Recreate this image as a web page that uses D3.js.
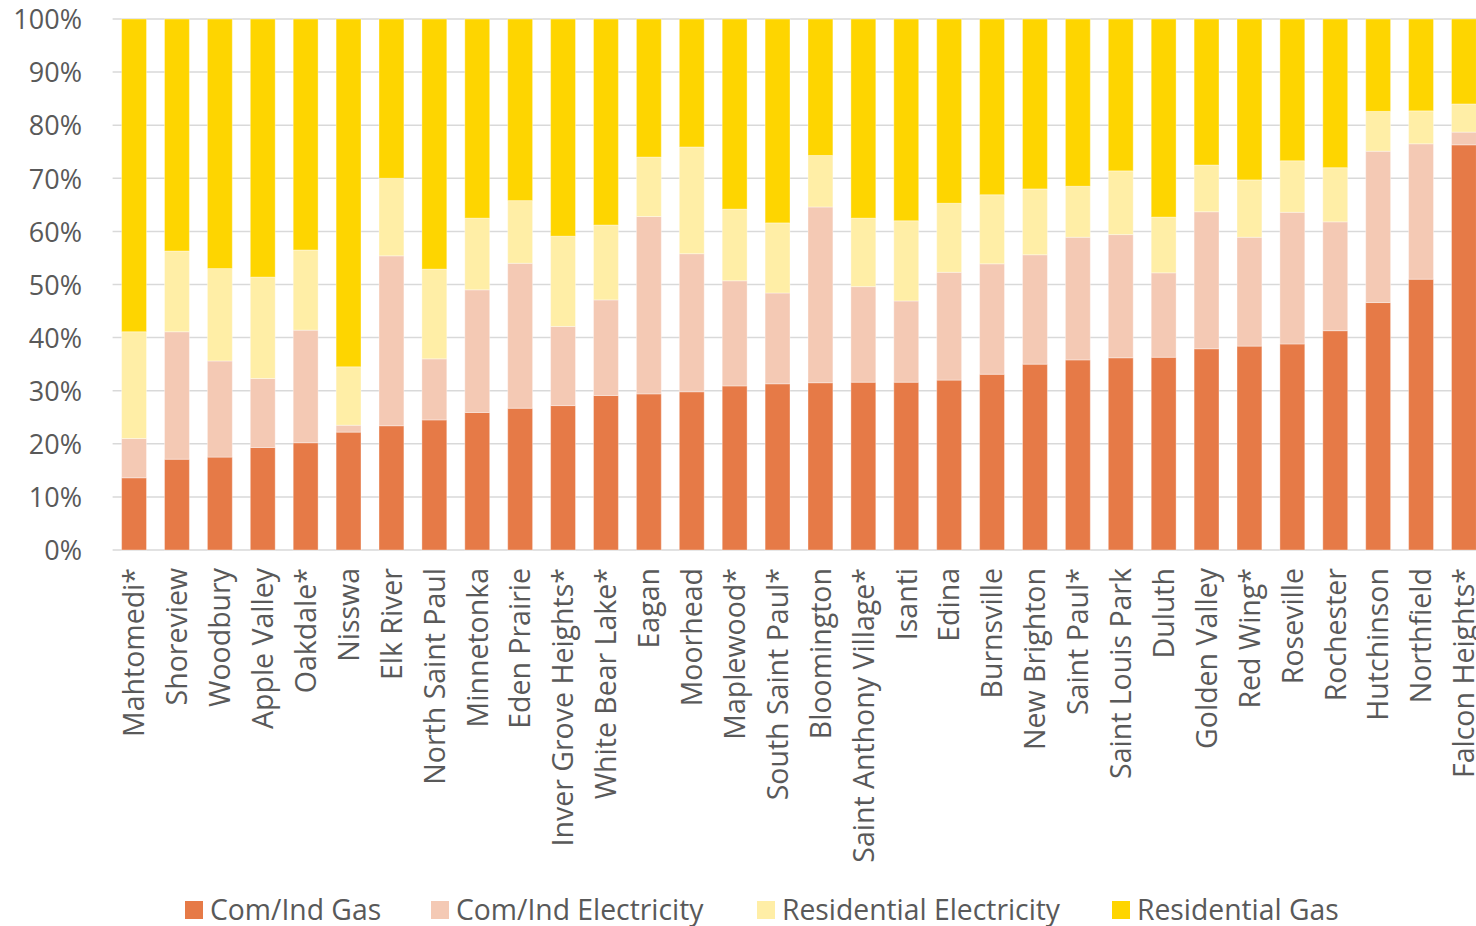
<!DOCTYPE html>
<html><head><meta charset="utf-8">
<script src="https://cdn.jsdelivr.net/npm/d3@7"></script>
<style>
html,body{margin:0;padding:0;background:#fff;}
text{font-family:"Open Sans",sans-serif;fill:#595959;}
</style></head>
<body><svg id="c" width="1476" height="926"></svg>
<script>
const categories = ["Mahtomedi*","Shoreview","Woodbury","Apple Valley","Oakdale*","Nisswa","Elk River","North Saint Paul","Minnetonka","Eden Prairie","Inver Grove Heights*","White Bear Lake*","Eagan","Moorhead","Maplewood*","South Saint Paul*","Bloomington","Saint Anthony Village*","Isanti","Edina","Burnsville","New Brighton","Saint Paul*","Saint Louis Park","Duluth","Golden Valley","Red Wing*","Roseville","Rochester","Hutchinson","Northfield","Falcon Heights*"];
const seriesNames = ["Com/Ind Gas","Com/Ind Electricity","Residential Electricity","Residential Gas"];
// shares in percent
const comIndGas   = [13.6,17.1,17.5,19.3,20.2,22.2,23.4,24.5,25.9,26.7,27.2,29.1,29.4,29.8,30.9,31.3,31.5,31.6,31.6,32.0,33.1,35.0,35.8,36.2,36.3,37.9,38.4,38.8,41.3,46.6,51.0,76.3];
const comIndElec  = [7.4,24.0,18.1,13.0,21.2,1.3,32.0,11.5,23.1,27.3,14.9,18.0,33.4,26.0,19.8,17.1,33.1,18.0,15.3,20.3,20.8,20.6,23.1,23.2,15.9,25.8,20.5,24.8,20.5,28.5,25.5,2.4];
const resElec     = [20.1,15.2,17.4,19.1,15.1,11.0,14.6,16.9,13.5,11.8,17.0,14.1,11.2,20.1,13.5,13.2,9.7,12.9,15.1,13.0,13.0,12.4,9.6,12.0,10.5,8.8,10.8,9.7,10.2,7.5,6.2,5.3];
const resGas      = categories.map((c,i)=>+(100-comIndGas[i]-comIndElec[i]-resElec[i]).toFixed(1));
const yTicks = [0,10,20,30,40,50,60,70,80,90,100];
const colors = ["#E67A47","#F4C9B4","#FFEEA6","#FED500"];

const svg = d3.select("#c");
const x = d3.scaleBand().domain(categories).range([112.6, 1485.4]).paddingInner(0.42).paddingOuter(0.21);
const y = d3.scaleLinear().domain([0,100]).range([550, 19]);

// gridlines
svg.append("g").selectAll("line").data(yTicks).join("line")
  .attr("x1",112.6).attr("x2",1485).attr("y1",d=>y(d)).attr("y2",d=>y(d))
  .attr("stroke","#D9D9D9").attr("stroke-width",1.5);

const yAxis = d3.axisLeft(y).tickValues(yTicks).tickFormat(d=>d+"%").tickSize(0).tickPadding(0);
const gy = svg.append("g").attr("transform","translate(82,0)").call(yAxis);
gy.select(".domain").remove();
gy.selectAll("text").attr("font-size",27).attr("fill","#595959").attr("font-family","'Open Sans',sans-serif").attr("dy","0.36em");

const rows = categories.map((c,i)=>({cat:c, "Com/Ind Gas":comIndGas[i], "Com/Ind Electricity":comIndElec[i], "Residential Electricity":resElec[i], "Residential Gas":resGas[i]}));
const stack = d3.stack().keys(seriesNames)(rows);

svg.append("g").selectAll("g").data(stack).join("g")
  .attr("fill",(d,i)=>colors[i])
  .selectAll("rect").data(d=>d).join("rect")
  .attr("x",d=>x(d.data.cat)).attr("width",x.bandwidth())
  .attr("y",d=>y(d[1])).attr("height",d=>y(d[0])-y(d[1]))
  .attr("stroke","rgba(255,255,255,0.35)").attr("stroke-width",1);

const xAxis = d3.axisBottom(x).tickSize(0).tickPadding(0);
const gx = svg.append("g").attr("transform","translate(0,568)").call(xAxis);
gx.select(".domain").remove();
gx.selectAll("text").attr("font-size",28.5).attr("fill","#595959").attr("font-family","'Open Sans',sans-serif")
  .attr("text-anchor","end").attr("transform","rotate(-90)").attr("x",0).attr("y",0).attr("dy","0.36em");

// legend
const legX = [185, 431, 757, 1112];
const leg = svg.append("g").selectAll("g").data(seriesNames).join("g")
  .attr("transform",(d,i)=>`translate(${legX[i]},901)`);
leg.append("rect").attr("width",18).attr("height",18).attr("fill",(d,i)=>colors[i]);
leg.append("text").attr("x",25).attr("y",9).attr("dy","0.36em").attr("font-size",28.3).text(d=>d);
</script></body></html>
